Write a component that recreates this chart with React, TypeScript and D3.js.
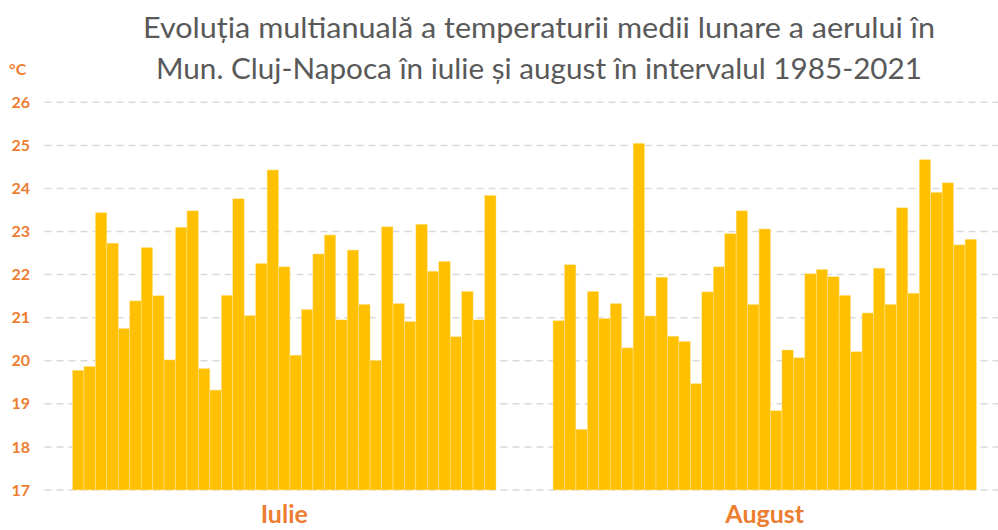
import React, { useEffect, useRef } from "react";
import * as d3 from "d3";

// 1985-2021
const years: number[] = d3.range(1985, 2022);
const months = ["Iulie", "August"];

const iulieValues = [
  19.78, 19.87, 23.44, 22.73, 20.75, 21.39, 22.63, 21.51, 20.02, 23.1,
  23.48, 19.82, 19.32, 21.52, 23.76, 21.05, 22.26, 24.43, 22.18, 20.13,
  21.19, 22.48, 22.92, 20.95, 22.57, 21.31, 20.01, 23.11, 21.33, 20.91,
  23.17, 22.08, 22.31, 20.56, 21.61, 20.95, 23.84,
];

const augustValues = [
  20.93, 22.23, 18.41, 21.61, 20.98, 21.33, 20.3, 25.05, 21.04, 21.94,
  20.57, 20.45, 19.47, 21.6, 22.18, 22.95, 23.48, 21.31, 23.06, 18.84,
  20.25, 20.07, 22.02, 22.12, 21.95, 21.52, 20.21, 21.11, 22.15, 21.31,
  23.55, 21.57, 24.67, 23.91, 24.13, 22.69, 22.82,
];

const yTicks = [17, 18, 19, 20, 21, 22, 23, 24, 25, 26];

const titleLines = [
  "Evoluția multianuală a temperaturii medii lunare a aerului în",
  "Mun. Cluj-Napoca în iulie și august în intervalul 1985-2021",
];

const W = 998;
const H = 530;
const ORANGE = "#ED7D31";
const BAR = "#FFC000";

function App() {
  const chartRef = useRef<SVGSVGElement>(null);

  useEffect(() => {
    const svg = d3.select(chartRef.current);
    svg.selectAll("*").remove();

    const y = d3.scaleLinear().domain([17, 26]).range([490, 102.3]);

    const x0 = d3.scaleBand().domain(months).range([44, 1005]);
    const groupWidth = 423.5;
    const x1 = d3
      .scaleBand()
      .domain(years.map(String))
      .range([0, groupWidth]);

    // grid
    svg
      .append("g")
      .selectAll("line")
      .data(yTicks)
      .enter()
      .append("line")
      .attr("x1", 44.5)
      .attr("x2", W)
      .attr("y1", (d) => y(d))
      .attr("y2", (d) => y(d))
      .attr("stroke", "#D9D9D9")
      .attr("stroke-width", 1.5)
      .attr("stroke-dasharray", "7,5");

    // y labels
    svg
      .append("g")
      .selectAll("text")
      .data(yTicks)
      .enter()
      .append("text")
      .attr("x", 30)
      .attr("y", (d) => y(d))
      .attr("dy", "0.35em")
      .attr("text-anchor", "end")
      .attr("font-family", "Lato, sans-serif")
      .attr("font-weight", "bold")
      .attr("font-size", 16)
      .attr("fill", ORANGE)
      .text((d) => d);

    svg
      .append("text")
      .attr("x", 9)
      .attr("y", 69)
      .attr("dy", "0.35em")
      .attr("font-family", "Lato, sans-serif")
      .attr("font-weight", "bold")
      .attr("font-size", 16)
      .attr("fill", ORANGE)
      .text("°C");

    const series = [iulieValues, augustValues];

    months.forEach((m, mi) => {
      const off = (x0(m) as number) + (x0.bandwidth() - groupWidth) / 2;
      svg
        .append("g")
        .attr("transform", "translate(" + off + ",0)")
        .selectAll("rect")
        .data(series[mi])
        .enter()
        .append("rect")
        .attr("x", (d, i) => x1(String(years[i])) as number)
        .attr("y", (d) => y(d))
        .attr("width", x1.bandwidth())
        .attr("height", (d) => y(17) - y(d))
        .attr("fill", BAR)
        .attr("stroke", "#FFE699")
        .attr("stroke-width", 0.5);

      svg
        .append("text")
        .attr("x", off + groupWidth / 2)
        .attr("y", 523)
        .attr("text-anchor", "middle")
        .attr("font-family", "Lato, sans-serif")
        .attr("font-weight", "bold")
        .attr("font-size", 25)
        .attr("fill", ORANGE)
        .text(m);
    });

    // title
    svg
      .append("g")
      .selectAll("text")
      .data(titleLines)
      .enter()
      .append("text")
      .attr("x", 539)
      .attr("y", (d, i) => 38 + i * 41)
      .attr("text-anchor", "middle")
      .attr("font-family", "Lato, sans-serif")
      .attr("font-size", 28)
      .attr("fill", "#595959")
      .attr("textLength", (d, i) => (i === 0 ? 792 : 766))
      .attr("lengthAdjust", "spacingAndGlyphs")
      .text((d) => d);
  }, []);

  return (
    <div style={{ position: "absolute", left: 0, top: 0 }}>
      <svg
        ref={chartRef}
        width={W}
        height={H}
        style={{ display: "block", background: "#fff" }}
      />
    </div>
  );
}

export default App;
